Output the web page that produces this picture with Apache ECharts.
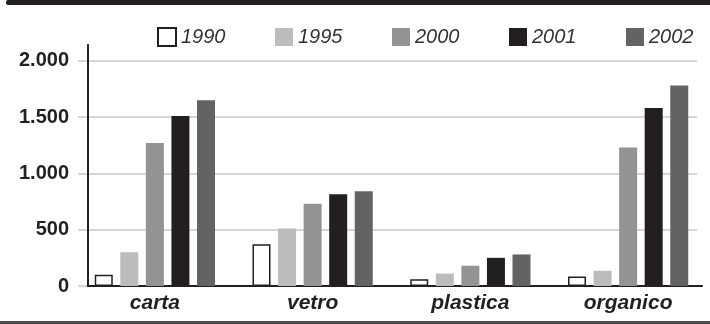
<!DOCTYPE html>
<html>
<head>
<meta charset="utf-8">
<script src="https://cdn.jsdelivr.net/npm/echarts@6/dist/echarts.min.js"></script>
<style>
  html, body { margin: 0; padding: 0; background: #ffffff; }
  #chart { width: 710px; height: 324px; }
</style>
</head>
<body>
<div id="chart"></div>
<script>
// Raccolta differenziata per materiale (tonnellate)
var categories = ['carta', 'vetro', 'plastica', 'organico'];
var years = ['1990', '1995', '2000', '2001', '2002'];
var v1990 = [100, 370, 60, 85];
var v1995 = [300, 510, 110, 135];
var v2000 = [1270, 730, 180, 1230];
var v2001 = [1510, 815, 250, 1580];
var v2002 = [1650, 840, 280, 1780];
var yTicks = [0, 500, 1000, 1500, 2000];

var seriesValues = [v1990, v1995, v2000, v2001, v2002];
var fills = ['#ffffff', '#bcbcbf', '#939396', '#231f20', '#636365'];
var ink = '#231f20';

function fmt(v) {
  return String(v).replace(/\B(?=(\d{3})+(?!\d))/g, '.');
}

var chart = echarts.init(document.getElementById('chart'));

var series = years.map(function (y, i) {
  return {
    name: y,
    type: 'bar',
    xAxisIndex: 0,
    yAxisIndex: 0,
    data: seriesValues[i],
    barWidth: 18,
    barGap: '42%',
    itemStyle: i === 0
      ? { color: fills[i], borderColor: ink, borderWidth: 1.5 }
      : { color: fills[i] },
    emphasis: { disabled: true },
    silent: true,
    z: 3
  };
});

chart.setOption({
  animation: false,
  backgroundColor: '#ffffff',
  legend: {
    data: years,
    left: 152,
    top: 22,
    width: 570,
    orient: 'horizontal',
    itemWidth: 18,
    itemHeight: 18,
    itemGap: 49.5,
    icon: 'rect',
    selectedMode: false,
    textStyle: {
      fontFamily: '"Liberation Sans Narrow", "Liberation Sans", Arial, sans-serif',
      fontStyle: 'italic',
      fontSize: 20,
      width: 41,
      overflow: 'none',
      color: '#333333'
    }
  },
  graphic: [
    { type: 'rect', shape: { x: 6, y: 0, width: 710, height: 5, r: 2 }, style: { fill: ink }, silent: true },
    { type: 'rect', shape: { x: 0, y: 321, width: 710, height: 3 }, style: { fill: '#4d4d4f' }, silent: true }
  ],
  grid: [
    // bars and labels
    { left: 76, right: 3, top: 60.7, bottom: 38 },
    // horizontal guide lines
    { left: 78, right: 13, top: 60.7, bottom: 38 },
    // axis frame
    { left: 88, right: 8, top: 45, bottom: 38 }
  ],
  xAxis: [
    {
      gridIndex: 0,
      type: 'category',
      data: categories,
      axisLine: { show: false },
      axisTick: { show: false },
      axisLabel: {
        margin: 7,
        fontFamily: '"Liberation Sans", Arial, sans-serif',
        fontWeight: 'bold',
        fontStyle: 'italic',
        fontSize: 21,
        color: ink
      }
    },
    { gridIndex: 1, type: 'value', show: false, min: 0, max: 1 },
    {
      gridIndex: 2, type: 'value', min: 0, max: 1,
      axisLine: { show: true, lineStyle: { color: ink, width: 2 } },
      axisTick: { show: false }, axisLabel: { show: false }, splitLine: { show: false }
    }
  ],
  yAxis: [
    {
      gridIndex: 0,
      type: 'value',
      min: yTicks[0],
      max: yTicks[yTicks.length - 1],
      interval: yTicks[1] - yTicks[0],
      axisLine: { show: false },
      axisTick: { show: false },
      splitLine: { show: false },
      axisLabel: {
        margin: 7,
        formatter: fmt,
        fontFamily: '"Liberation Sans", Arial, sans-serif',
        fontWeight: 'bold',
        fontSize: 20,
        color: ink,
        verticalAlign: 'middle',
        padding: [0, 0, 11, 0]
      }
    },
    {
      gridIndex: 1,
      type: 'value',
      min: yTicks[0],
      max: yTicks[yTicks.length - 1],
      interval: yTicks[1] - yTicks[0],
      axisLine: { show: false },
      axisTick: { show: false },
      axisLabel: { show: false },
      splitLine: { show: true, lineStyle: { color: '#c8c8c8', width: 1.5 } }
    },
    {
      gridIndex: 2, type: 'value', min: 0, max: 1,
      axisLine: { show: true, lineStyle: { color: ink, width: 2 } },
      axisTick: { show: false }, axisLabel: { show: false }, splitLine: { show: false }
    }
  ],
  series: series
});
</script>
</body>
</html>
